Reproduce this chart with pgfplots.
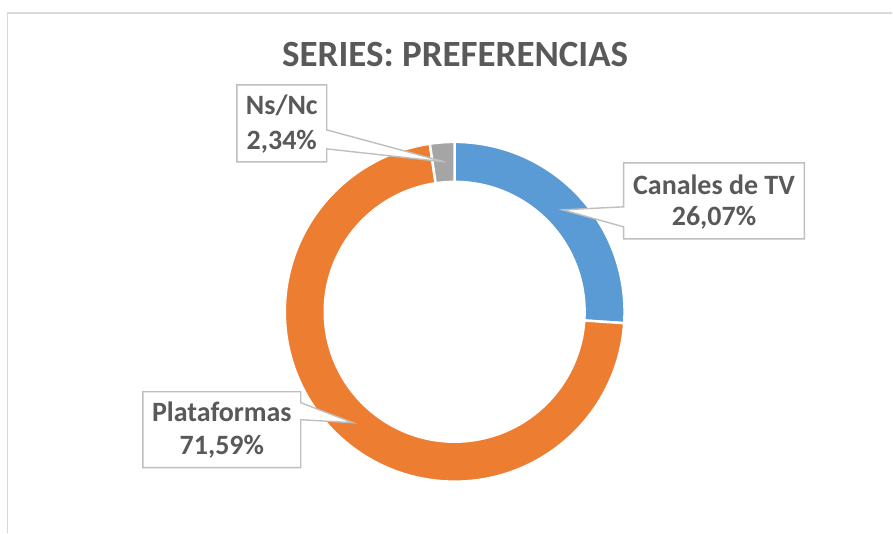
\documentclass[border=0pt]{standalone}
\usepackage{pgfplots}
\pgfplotsset{compat=1.18}
\usepackage{pgfplotstable}
\usepackage{fontspec}
\setmainfont{Carlito}
\definecolor{cblue}{HTML}{5B9BD5}
\definecolor{corange}{HTML}{ED7D31}
\definecolor{cgray}{HTML}{A5A5A5}
\definecolor{ctext}{HTML}{595959}
\definecolor{cbox}{HTML}{BFBFBF}
\definecolor{cborder}{HTML}{D9D9D9}

\pgfplotstableread{
label value
Canales 26.07
Plataformas 71.59
NsNc 2.34
}\donutdata

\begin{document}
\begin{tikzpicture}
\begin{axis}[
  scale only axis, width=893bp, height=533bp,
  xmin=0, xmax=893, ymin=0, ymax=533,
  hide axis, clip=false]
\pgfplotsextra{
  \path (axis cs:0,0) rectangle (axis cs:893,533);
  % chart border
  \draw[cborder, line width=1.3bp] (axis cs:7.5,0) -- (axis cs:7.5,520) -- (axis cs:893,520);
  % values
  \pgfplotstablegetelem{0}{value}\of\donutdata \let\va\pgfplotsretval
  \pgfplotstablegetelem{1}{value}\of\donutdata \let\vb\pgfplotsretval
  \pgfplotstablegetelem{2}{value}\of\donutdata \let\vc\pgfplotsretval
  \pgfmathsetmacro\aA{90}
  \pgfmathsetmacro\aB{\aA-3.6*\va}
  \pgfmathsetmacro\aC{\aB-3.6*\vb}
  \pgfmathsetmacro\aD{\aC-3.6*\vc}
  \coordinate (C) at (axis cs:455,221);
  \def\Ro{170bp}\def\Ri{130bp}
  \foreach \s/\e/\col in {\aA/\aB/cblue, \aB/\aC/corange, \aC/\aD/cgray}{
    \fill[\col, draw=white, line width=2.5bp]
      ([shift={(\s:\Ro)}]C) arc[start angle=\s, end angle=\e, radius=\Ro]
      -- ([shift={(\e:\Ri)}]C) arc[start angle=\e, end angle=\s, radius=\Ri] -- cycle;
  }
  % title
  \node[anchor=base, text=ctext, font=\fontsize{37bp}{40bp}\selectfont\bfseries]
    at (axis cs:455.5,466) {SERIES: PREFERENCIAS};
  % callouts
  \tikzset{callout/.style={fill=white, draw=cbox, line width=1.4bp, line join=miter}}
  % Ns/Nc
  \draw[callout] (axis cs:237,448) -- (axis cs:327,448) -- (axis cs:327,403)
     -- (axis cs:445,371) -- (axis cs:327,384) -- (axis cs:327,371) -- (axis cs:237,371) -- cycle;
  % Canales de TV
  \draw[callout] (axis cs:624,370) -- (axis cs:805,370) -- (axis cs:805,294)
     -- (axis cs:624,294) -- (axis cs:624,306) -- (axis cs:563,323) -- (axis cs:624,326) -- cycle;
  % Plataformas
  \draw[callout] (axis cs:143,141) -- (axis cs:301,141) -- (axis cs:301,130)
     -- (axis cs:353,110) -- (axis cs:301,113) -- (axis cs:301,65) -- (axis cs:143,65) -- cycle;
  \tikzset{lbl/.style={anchor=base, text=ctext, font=\fontsize{28bp}{30bp}\selectfont\bfseries}}
  \node[lbl] at (axis cs:282,418) {Ns/Nc};
  \node[lbl] at (axis cs:282,383) {2,34\%};
  \node[lbl] at (axis cs:714.5,338) {Canales de TV};
  \node[lbl] at (axis cs:714.5,307) {26,07\%};
  \node[lbl] at (axis cs:222,111) {Plataformas};
  \node[lbl] at (axis cs:222,78) {71,59\%};
}
\end{axis}
\end{tikzpicture}
\end{document}
